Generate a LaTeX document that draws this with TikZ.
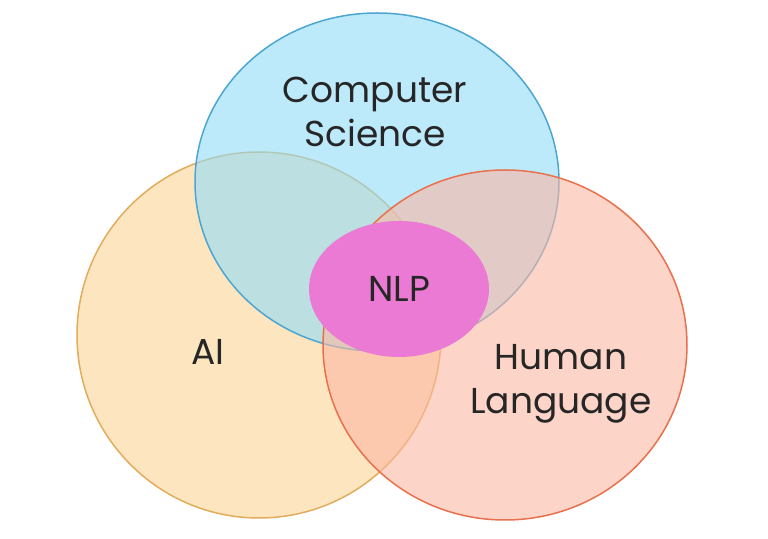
\documentclass[tikz,border=0pt]{standalone}
\usepackage{fontspec}
\setmainfont{Poppins}
\usetikzlibrary{shapes.geometric}

\definecolor{csfill}{RGB}{145,220,248}
\definecolor{csline}{RGB}{77,166,209}
\definecolor{aifill}{RGB}{253,229,192}
\definecolor{ailine}{RGB}{226,172,92}
\definecolor{hlfill}{RGB}{252,183,163}
\definecolor{hlline}{RGB}{232,112,76}
\definecolor{nlpfill}{RGB}{234,122,211}
\definecolor{labeltext}{RGB}{38,38,38}

\begin{document}
\begin{tikzpicture}[x=0.5pt,y=-0.5pt]
        \useasboundingbox (0,0) rectangle (768,539);

        \begin{scope}[every node/.style={ellipse,inner sep=0pt,line width=0.75pt}]
          \node[draw=ailine,fill=aifill,minimum width=182pt,minimum height=183pt] (ai) at (259,335) {};
          \node[draw=csline,fill=csfill,fill opacity=0.6,minimum width=182pt,minimum height=169pt] (cs) at (377,182) {};
          \node[draw=hlline,fill=hlfill,fill opacity=0.6,minimum width=182pt,minimum height=175pt] (hl) at (505,345) {};
          \node[fill=nlpfill,minimum width=90pt,minimum height=68pt] (nlp) at (399,289) {};
        \end{scope}

        \begin{scope}[every node/.style={text=labeltext,align=center,font=\fontsize{18}{22}\selectfont}]
          \node (cslabel) at (375,112) {Computer\\Science};
          \node (ailabel) at (208,352) {AI};
          \node (hllabel) at (561,384) {Human\\Language};
          \node (nlplabel) at (nlp) {NLP};
        \end{scope}

      \end{tikzpicture}
\end{document}
